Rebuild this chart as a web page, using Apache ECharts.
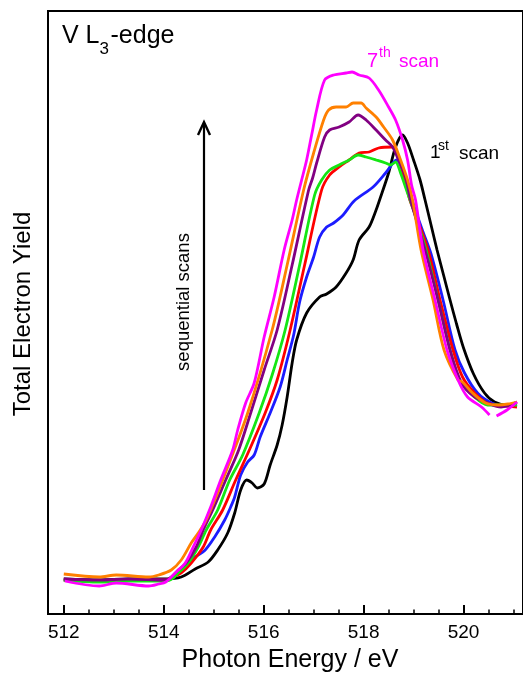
<!DOCTYPE html>
<html>
<head>
<meta charset="utf-8">
<script src="https://cdn.jsdelivr.net/npm/echarts@6/dist/echarts.min.js"></script>
<style>html,body{margin:0;padding:0;background:#fff}#c{width:523px;height:673px}</style>
</head>
<body>
<div id="c"></div>
<script>
// Photon energy (eV) vs total electron yield (arb. units)
const majorTicks = [512, 514, 516, 518, 520];
const minorTicks = [512.5, 513, 513.5, 514.5, 515, 515.5, 516.5, 517, 517.5, 518.5, 519, 519.5, 520.5, 521];
const scanNames = ['1st scan', '2nd scan', '3rd scan', '4th scan', '5th scan', '6th scan', '7th scan'];
const scanColors = ['#000000', '#1c1cff', '#ff0000', '#14e614', '#820082', '#ff8000', '#ff00ff'];

const scan1 = [[512.00,0.35],[512.71,0.34],[513.30,0.35],[514.04,0.35],[514.35,0.37],[514.63,0.45],[514.89,0.52],[515.08,0.64],[515.28,0.81],[515.42,1.01],[515.54,1.24],[515.66,1.34],[515.77,1.31],[515.87,1.26],[516.01,1.30],[516.13,1.49],[516.27,1.69],[516.37,1.89],[516.47,2.17],[516.57,2.51],[516.66,2.74],[516.86,3.01],[517.12,3.17],[517.26,3.20],[517.45,3.27],[517.65,3.41],[517.79,3.54],[517.91,3.74],[518.11,3.87],[518.25,4.04],[518.32,4.14],[518.50,4.41],[518.64,4.67],[518.78,4.79],[518.88,4.71],[519.00,4.54],[519.13,4.34],[519.23,4.14],[519.35,3.89],[519.47,3.64],[519.60,3.39],[519.73,3.14],[519.86,2.90],[520.00,2.66],[520.20,2.40],[520.42,2.21],[520.62,2.12],[520.87,2.09],[521.07,2.10]];
const scan2 = [[512.00,0.34],[512.71,0.33],[513.30,0.34],[514.04,0.34],[514.29,0.41],[514.49,0.52],[514.63,0.57],[514.83,0.64],[515.02,0.77],[515.22,0.94],[515.34,1.07],[515.42,1.17],[515.54,1.39],[515.68,1.52],[515.81,1.59],[515.93,1.77],[516.13,2.01],[516.33,2.27],[516.47,2.54],[516.60,2.79],[516.72,3.12],[516.86,3.37],[517.00,3.57],[517.12,3.77],[517.26,3.87],[517.40,3.91],[517.59,3.99],[517.81,4.13],[518.19,4.27],[518.44,4.41],[518.66,4.54],[518.84,4.34],[519.00,4.09],[519.19,3.82],[519.35,3.60],[519.59,3.14],[519.83,2.64],[520.02,2.41],[520.28,2.21],[520.56,2.11],[520.81,2.08],[521.07,2.09]];
const scan3 = [[512.00,0.34],[512.71,0.33],[513.30,0.34],[514.04,0.34],[514.19,0.37],[514.35,0.41],[514.55,0.51],[514.79,0.67],[514.94,0.84],[515.18,1.04],[515.44,1.34],[515.74,1.67],[516.03,2.01],[516.27,2.34],[516.53,2.84],[516.82,3.49],[517.16,4.24],[517.32,4.39],[517.51,4.47],[517.71,4.54],[517.91,4.61],[518.11,4.62],[518.30,4.66],[518.58,4.67],[518.74,4.50],[518.92,4.15],[519.04,3.99],[519.29,3.64],[519.53,3.14],[519.79,2.64],[519.98,2.37],[520.22,2.21],[520.48,2.11],[521.07,2.07]];
const scan4 = [[512.00,0.34],[512.71,0.32],[513.30,0.33],[514.04,0.33],[514.19,0.36],[514.29,0.41],[514.49,0.51],[514.69,0.67],[514.85,0.84],[515.08,1.04],[515.32,1.34],[515.58,1.59],[515.91,2.01],[516.17,2.39],[516.43,2.84],[516.72,3.49],[517.02,4.19],[517.16,4.34],[517.32,4.44],[517.51,4.49],[517.71,4.54],[517.89,4.59],[518.05,4.57],[518.25,4.54],[518.44,4.51],[518.54,4.49],[518.64,4.52],[518.74,4.41],[518.88,4.21],[519.00,4.04],[519.25,3.64],[519.49,3.14],[519.73,2.64],[519.92,2.34],[520.22,2.17],[520.48,2.09],[521.07,2.09]];
const scan5 = [[512.00,0.35],[512.71,0.34],[513.30,0.35],[514.04,0.34],[514.15,0.37],[514.29,0.44],[514.45,0.51],[514.65,0.67],[514.79,0.84],[514.98,1.04],[515.24,1.34],[515.50,1.64],[515.74,2.01],[516.01,2.44],[516.27,2.84],[516.57,3.49],[516.90,4.24],[516.98,4.36],[517.06,4.51],[517.22,4.77],[517.32,4.84],[517.51,4.87],[517.71,4.92],[517.89,4.99],[518.05,4.94],[518.25,4.84],[518.44,4.74],[518.58,4.67],[518.70,4.54],[518.84,4.37],[518.94,4.14],[519.23,3.64],[519.49,3.14],[519.73,2.64],[519.96,2.31],[520.22,2.17],[520.48,2.11],[520.75,2.07],[521.07,2.12]];
const scan6 = [[512.00,0.40],[512.71,0.37],[513.05,0.39],[513.70,0.37],[513.90,0.39],[514.15,0.44],[514.35,0.54],[514.55,0.71],[514.69,0.81],[514.83,0.92],[514.98,1.09],[515.18,1.34],[515.68,2.01],[516.17,2.84],[516.47,3.49],[516.80,4.24],[517.00,4.61],[517.20,4.94],[517.30,5.04],[517.45,5.07],[517.65,5.07],[517.79,5.11],[517.95,5.11],[518.05,5.06],[518.25,4.97],[518.40,4.87],[518.58,4.74],[518.74,4.54],[518.88,4.34],[518.98,4.14],[519.15,3.64],[519.39,3.14],[519.61,2.64],[519.89,2.34],[519.98,2.32],[520.18,2.21],[520.44,2.11],[520.70,2.09],[520.89,2.10],[521.07,2.12]];
const scan7 = [[512.02,0.33],[512.71,0.28],[513.05,0.31],[513.70,0.28],[513.90,0.30],[514.04,0.32],[514.23,0.41],[514.43,0.51],[514.59,0.67],[514.75,0.84],[514.94,1.07],[515.14,1.34],[515.38,1.64],[515.48,1.84],[515.64,2.11],[515.81,2.31],[516.01,2.77],[516.21,3.17],[516.41,3.64],[516.57,3.94],[516.66,4.14],[516.76,4.34],[516.86,4.54],[516.96,4.79],[517.06,5.04],[517.22,5.34],[517.40,5.39],[517.65,5.41],[517.77,5.42],[517.91,5.39],[518.11,5.36],[518.30,5.24],[518.50,5.07],[518.64,4.94],[518.78,4.74],[518.88,4.54],[518.96,4.29],[519.04,4.14],[519.19,3.64],[519.43,3.14],[519.67,2.64],[519.89,2.34],[520.08,2.17],[520.36,2.07],[520.52,1.99],[520.59,'-'],[520.66,1.98],[520.87,2.04],[521.07,2.12]];
const scans = [scan1, scan2, scan3, scan4, scan5, scan6, scan7];

const FONT = '"Liberation Sans", Arial, Helvetica, sans-serif';
const chart = echarts.init(document.getElementById('c'), null, {renderer: 'canvas'});

const series = scans.map((d, i) => ({
  name: scanNames[i],
  type: 'line',
  data: d,
  showSymbol: false,
  smooth: 0.3,
  connectNulls: false,
  lineStyle: {color: scanColors[i], width: 2.8},
  itemStyle: {color: scanColors[i]},
  z: 2 + i,
  animation: false
}));

function txt(text, x, y, size, color) {
  return {type: 'text', x: x, y: y, z: 100,
    style: {text: text, fontSize: size, fontFamily: FONT, fill: color || '#000', align: 'left', verticalAlign: 'middle'}};
}
function ctxt(text, x, y, size, rot) {
  return {type: 'text', x: x, y: y, z: 100, rotation: rot || 0,
    style: {text: text, fontSize: size, fontFamily: FONT, fill: '#000', align: 'center', verticalAlign: 'middle'}};
}

chart.setOption({
  animation: false,
  backgroundColor: '#ffffff',
  grid: {left: 48, top: 11, right: -6, bottom: 59, show: true, borderColor: '#000', borderWidth: 2, backgroundColor: 'transparent'},
  xAxis: [
    {type: 'value', min: 511.684, max: 521.19, position: 'bottom',
     axisLine: {show: false}, splitLine: {show: false},
     axisTick: {show: true, inside: true, length: 9, customValues: majorTicks, lineStyle: {color: '#000', width: 2}},
     axisLabel: {show: true, customValues: majorTicks, fontSize: 19, fontFamily: FONT, color: '#000', margin: 19, verticalAlign: 'middle'}},
    {type: 'value', min: 511.684, max: 521.19, position: 'bottom',
     axisLine: {show: false}, splitLine: {show: false},
     axisTick: {show: true, inside: true, length: 4.5, customValues: minorTicks, lineStyle: {color: '#000', width: 1.5}},
     axisLabel: {show: false}}
  ],
  yAxis: {type: 'value', min: 0, max: 6.03, show: false, splitLine: {show: false}},
  series: series,
  graphic: [
    ctxt('Total Electron Yield', 23, 314, 24, Math.PI / 2),
    ctxt('Photon Energy / eV', 290, 660, 25, 0),
    ctxt('sequential scans', 184, 302, 18.5, Math.PI / 2),
    txt('V L', 62, 36.3, 25),
    txt('3', 99.5, 49, 17),
    txt('-edge', 110.5, 36.3, 25),
    txt('7', 367, 61, 20, '#ff00ff'),
    txt('th', 379, 53, 14, '#ff00ff'),
    txt('scan', 399, 62, 19, '#ff00ff'),
    txt('1', 430, 153, 19),
    txt('st', 438, 146, 14),
    txt('scan', 459, 154, 19),
    {type: 'line', z: 100, shape: {x1: 204, y1: 490, x2: 204, y2: 123}, style: {stroke: '#000', lineWidth: 2.2}},
    {type: 'polyline', z: 100, shape: {points: [[198, 135], [204, 122], [210, 135]]}, style: {stroke: '#000', lineWidth: 2.4, fill: null}}
  ]
});
</script>
</body>
</html>
